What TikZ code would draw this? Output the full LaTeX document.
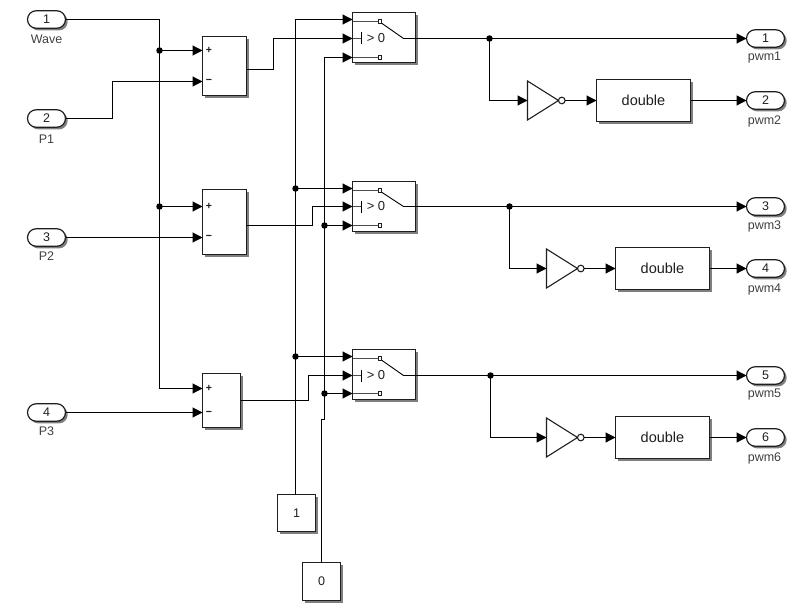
\documentclass[tikz,border=0pt]{standalone}
\usepackage{fontspec}
\setmainfont{Liberation Sans}
\usetikzlibrary{arrows.meta,shapes.misc,shadows,calc}
\definecolor{ink}{gray}{0.12}
\tikzset{
  blockshadow/.style={drop shadow={shadow xshift=2.2pt,shadow yshift=-2.2pt,fill=black,opacity=0.5}},
  block/.style={draw=ink,line width=1.2pt,fill=white,inner sep=0pt,outer sep=0pt,blockshadow,text=ink,font=\fontsize{12.5}{12.5}\selectfont},
  sumblock/.style={block,minimum width=44pt},
  swblock/.style={block,minimum width=63pt,minimum height=50pt},
  convblock/.style={block,minimum width=94pt,minimum height=42pt,font=\fontsize{14.5}{14.5}\selectfont},
  constblock/.style={block,minimum width=38pt,minimum height=37pt},
  port/.style={rounded rectangle,draw=ink,line width=1.2pt,fill=white,inner sep=0pt,outer sep=0pt,minimum width=38pt,minimum height=17.5pt,
    blockshadow,text=ink,font=\fontsize{12.5}{12.5}\selectfont},
  caption/.style={text=ink!85,inner sep=0pt,font=\fontsize{12.5}{12.5}\selectfont},
  sign/.style={text=ink,inner sep=0pt,font=\fontsize{10.5}{10.5}\selectfont\bfseries},
  wire/.style={draw=black,line width=1.2pt},
  sig/.style={wire,-{Triangle[length=10pt,width=10pt]}},
  inner/.style={draw=black!70,line width=1pt},
  junction/.style={circle,fill=black,inner sep=0pt,minimum size=6.5pt},
  gateshape/.style={draw=ink,line width=1.1pt,fill=white,line join=miter},
  bubble/.style={circle,draw=ink,line width=1.1pt,fill=white,inner sep=0pt,minimum size=6.6pt,outer sep=0pt},
  contact/.style={draw=ink,line width=0.9pt,fill=white,inner sep=0pt,minimum size=3.6pt,outer sep=0pt},
}
% Switch symbol drawn inside a block: #1 name, #2 top port y, #3 control y, #4 bottom port y
\newcommand{\SwitchSymbol}[4]{
  \coordinate (#1a) at (#1.west |- 0,#2);
  \coordinate (#1c) at (#1.west |- 0,#3);
  \coordinate (#1b) at (#1.west |- 0,#4);
  \coordinate (#1o) at (#1.east |- 0,#3);
  \node[contact] (#1t1) at ($(#1a)+(27.5,2)$) {};
  \node[contact] (#1t2) at ($(#1b)+(27.5,0)$) {};
  \draw[inner] (#1a)++(0,2) -- (#1t1.west);
  \draw[inner] (#1b) -- (#1t2.west);
  \draw[draw=black,line width=0.9pt] (#1t1.south east) -- ($(#1o)+(-12,0)$) -- (#1o);
  \draw[inner] (#1c) -- ++(9,0);
  \draw[draw=black,line width=0.9pt] ($(#1c)+(9,-6)$) -- ($(#1c)+(9,6)$);
  \node[inner sep=0pt,text=ink,font=\fontsize{13}{13}\selectfont] (#1lab) at ($(#1c)+(23.5,-0.5)$) {> 0};
}
% Inverter triangle with output bubble: #1 name, #2 left x, #3 centre y
\newcommand{\NotGate}[3]{
  \coordinate (#1) at (#2,#3);
  \draw[gateshape] (#2,#3-19.5) -- (#2+31,#3) -- (#2,#3+19.5) -- cycle;
  \node[bubble] (#1o) at (#2+34.3,#3) {};
}
\begin{document}
\begin{tikzpicture}[x=1pt,y=-1pt]
\useasboundingbox (0,0) rectangle (806,607);
\begin{scope}[shift={(0.5,0.5)}]

% Input ports
\node[port] (in1) at (46,19) {1};
\node[caption] (cap1) at (46,39) {Wave};
\node[port] (in2) at (46,118) {2};
\node[caption] (cap2) at (46,139) {P1};
\node[port] (in3) at (46,237) {3};
\node[caption] (cap3) at (46,256) {P2};
\node[port] (in4) at (46,412) {4};
\node[caption] (cap4) at (46,431) {P3};

% Output ports
\node[port] (out1) at (765,38) {1};
\node[caption] (capo1) at (764,57) {pwm1};
\node[port] (out2) at (765,100) {2};
\node[caption] (capo2) at (764,121) {pwm2};
\node[port] (out3) at (765,206) {3};
\node[caption] (capo3) at (764,226) {pwm3};
\node[port] (out4) at (765,268) {4};
\node[caption] (capo4) at (764,289) {pwm4};
\node[port] (out5) at (765,375) {5};
\node[caption] (capo5) at (764,394) {pwm5};
\node[port] (out6) at (765,437) {6};
\node[caption] (capo6) at (764,458) {pwm6};

% Subtractors
\node[sumblock,minimum height=59pt] (sum1) at (224,65.5) {};
\node[sumblock,minimum height=65pt] (sum2) at (224,221.5) {};
\node[sumblock,minimum width=38pt,minimum height=54pt] (sum3) at (221,400) {};
\node[sign] (s1p) at (208.5,50) {+};
\node[sign] (s1m) at (208.5,81) {−};
\node[sign] (s2p) at (208.5,206) {+};
\node[sign] (s2m) at (208.5,237) {−};
\node[sign] (s3p) at (208.5,388) {+};
\node[sign] (s3m) at (208.5,413) {−};

% Switches
\node[swblock] (sw1) at (383.5,37) {};
\node[swblock] (sw2) at (383.5,206) {};
\node[swblock] (sw3) at (383.5,374) {};
\SwitchSymbol{sw1}{19}{38}{57}
\SwitchSymbol{sw2}{188}{206}{225}
\SwitchSymbol{sw3}{356}{375}{393}

% Constants
\node[constblock] (one) at (296,512.5) {1};
\node[constblock,minimum height=38pt] (zero) at (321,581) {0};

% Inverters and data type conversions
\NotGate{not1}{527}{100}
\NotGate{not2}{546}{268}
\NotGate{not3}{546}{437}
\node[convblock] (conv1) at (643,100) {double};
\node[convblock] (conv2) at (662,268) {double};
\node[convblock] (conv3) at (662,437) {double};

% Branch points
\coordinate (waveTop) at (159,19);
\node[junction] (jw1) at (159,50) {};
\node[junction] (jw2) at (159,206) {};
\coordinate (waveEnd) at (159,388);
\node[junction] (ja2) at (295,188) {};
\node[junction] (ja3) at (295,356) {};
\node[junction] (jb2) at (324,225) {};
\node[junction] (jb3) at (324,393) {};
\node[junction] (jo1) at (489,38) {};
\node[junction] (jo2) at (509,206) {};
\node[junction] (jo3) at (490,375) {};

% Wave distribution
\draw[wire] (in1.east) -- (waveTop) -- (jw1.center) -- (jw2.center) -- (waveEnd);
\draw[sig] (jw1.center) -- (sum1.west |- jw1);
\draw[sig] (jw2.center) -- (sum2.west |- jw2);
\draw[sig] (waveEnd) -- (sum3.west |- waveEnd);

% Phase inputs
\draw[sig] (in2.east) -- (112,118) -- (112,81) -- (sum1.west |- s1m);
\draw[sig] (in3.east) -- (sum2.west |- in3);
\draw[sig] (in4.east) -- (sum3.west |- in4);

% Subtractor outputs to switch controls
\draw[sig] (sum1.east |- 0,69) -- (273,69) -- (273,38) -- (sw1c);
\draw[sig] (sum2.east |- 0,225) -- (312,225) -- (312,206) -- (sw2c);
\draw[sig] (sum3.east |- 0,400) -- (308,400) -- (308,375) -- (sw3c);

% Constant 1 rail
\draw[wire] (one.north -| ja2) -- (ja3.center) -- (ja2.center) -- (295,19);
\draw[sig] (295,19) -- (sw1a);
\draw[sig] (ja2.center) -- (sw2a);
\draw[sig] (ja3.center) -- (sw3a);

% Constant 0 rail
\draw[wire] (zero.north) -- (321,419) -- (324,419) -- (jb3.center) -- (jb2.center) -- (324,57);
\draw[sig] (324,57) -- (sw1b);
\draw[sig] (jb2.center) -- (sw2b);
\draw[sig] (jb3.center) -- (sw3b);

% Switch outputs and branches
\draw[sig] (sw1o) -- (out1.west |- sw1o);
\draw[sig] (sw2o) -- (out3.west |- sw2o);
\draw[sig] (sw3o) -- (out5.west |- sw3o);
\draw[sig] (jo1.center) -- (489,100) -- (not1);
\draw[sig] (jo2.center) -- (509,268) -- (not2);
\draw[sig] (jo3.center) -- (490,437) -- (not3);

% Inverter chains
\draw[sig] (not1o.east) -- (conv1.west);
\draw[sig] (not2o.east) -- (conv2.west);
\draw[sig] (not3o.east) -- (conv3.west);
\draw[sig] (conv1.east) -- (out2.west);
\draw[sig] (conv2.east) -- (out4.west);
\draw[sig] (conv3.east) -- (out6.west);
\end{scope}
\end{tikzpicture}
\end{document}
